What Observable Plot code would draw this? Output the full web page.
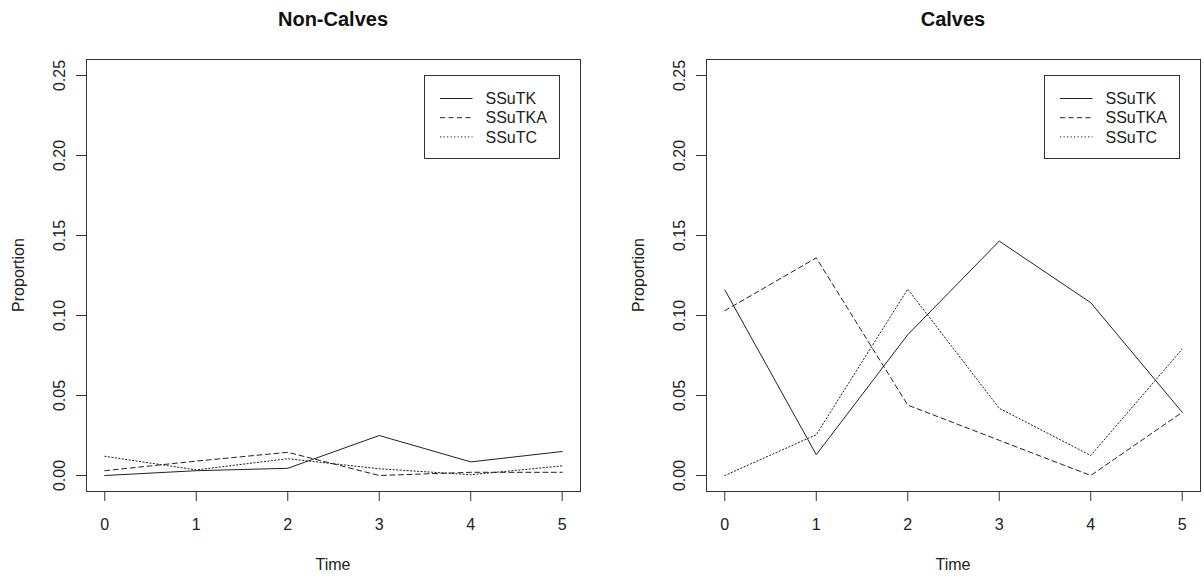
<!DOCTYPE html>
<html>
<head>
<meta charset="utf-8">
<script src="https://cdn.jsdelivr.net/npm/d3@7"></script>
<script src="https://cdn.jsdelivr.net/npm/@observablehq/plot@0.6"></script>
<style>
  html, body { margin: 0; padding: 0; background: #fff; }
  #chart { position: relative; width: 1204px; height: 577px; font-family: "Liberation Sans", Arial, sans-serif; color: #111; }
  .panel { position: absolute; top: 0; }
  .lbl { position: absolute; white-space: nowrap; line-height: 1; transform: translate(-50%, -50%); }
  .title { font-weight: bold; font-size: 20px; }
  .axlab { font-size: 16px; color: #222; }
</style>
</head>
<body>
<div id="chart"></div>
<script>
// ---- Data ----
const time = [0, 1, 2, 3, 4, 5];
const seriesNames = ["SSuTK", "SSuTKA", "SSuTC"];
const panelTitles = ["Non-Calves", "Calves"];
const xTicks = [0, 1, 2, 3, 4, 5];
const yTicks = [0, 0.05, 0.10, 0.15, 0.20, 0.25];

const nonCalvesSSuTK  = [0.000, 0.003, 0.0045, 0.025, 0.0085, 0.015];
const nonCalvesSSuTKA = [0.003, 0.009, 0.0145, 0.000, 0.002, 0.002];
const nonCalvesSSuTC  = [0.012, 0.0035, 0.0105, 0.0042, 0.0005, 0.006];

const calvesSSuTK  = [0.116, 0.013, 0.088, 0.1465, 0.108, 0.0395];
const calvesSSuTKA = [0.103, 0.136, 0.044, 0.022, 0.000, 0.0395];
const calvesSSuTC  = [0.000, 0.0255, 0.1165, 0.042, 0.0125, 0.079];

const dashes = {SSuTK: null, SSuTKA: "5,3.5", SSuTC: "1.3,2.2"};

function toRows(arrs) {
  const rows = [];
  seriesNames.forEach((s, i) => time.forEach((t, j) => rows.push({series: s, time: t, value: arrs[i][j]})));
  return rows;
}
const panels = [
  {title: panelTitles[0], rows: toRows([nonCalvesSSuTK, nonCalvesSSuTKA, nonCalvesSSuTC])},
  {title: panelTitles[1], rows: toRows([calvesSSuTK, calvesSSuTKA, calvesSSuTC])}
];

const chart = document.getElementById("chart");
const panelLeft = [0, 620];
const panelWidth = [620, 584];
const mL = 86, mT = 59, mB = 86;

panels.forEach((p, k) => {
  const W = panelWidth[k];
  const plot = Plot.plot({
    width: W,
    height: 577,
    marginLeft: mL,
    marginRight: W - 580,
    marginTop: mT,
    marginBottom: mB,
    x: {domain: [-0.2, 5.2]},
    y: {domain: [-0.01, 0.26]},
    style: {fontFamily: '"Liberation Sans", Arial, sans-serif', fontSize: "16px", color: "#222", background: "transparent", overflow: "visible"},
    marks: [
      Plot.frame({stroke: "#333", strokeWidth: 1}),
      Plot.axisX({ticks: xTicks, tickSize: 10, tickPadding: 17, tickFormat: d3.format("d"), label: null, stroke: "#333"}),
      Plot.axisY({ticks: yTicks, tickSize: 10, tickPadding: 12, tickRotate: -90, tickFormat: d3.format(".2f"), label: null, stroke: "#333"}),
      ...seriesNames.map(s => Plot.line(p.rows.filter(d => d.series === s), {
        x: "time", y: "value", stroke: "#222", strokeWidth: 1,
        strokeDasharray: dashes[s] || undefined
      }))
    ]
  });
  const holder = document.createElement("div");
  holder.className = "panel";
  holder.style.left = panelLeft[k] + "px";
  holder.appendChild(plot);
  chart.appendChild(holder);

  const cx = panelLeft[k] + (mL + 580) / 2;
  // Title
  const t = document.createElement("div");
  t.className = "lbl title";
  t.textContent = p.title;
  t.style.left = cx + "px";
  t.style.top = "18.5px";
  chart.appendChild(t);
  // x label
  const xl = document.createElement("div");
  xl.className = "lbl axlab";
  xl.textContent = "Time";
  xl.style.left = cx + "px";
  xl.style.top = "565px";
  chart.appendChild(xl);
  // y label
  const yl = document.createElement("div");
  yl.className = "lbl axlab";
  yl.textContent = "Proportion";
  yl.style.left = (panelLeft[k] + 19) + "px";
  yl.style.top = ((mT + 577 - mB) / 2) + "px";
  yl.style.transform = "translate(-50%, -50%) rotate(-90deg)";
  chart.appendChild(yl);

  // Legend
  const lx = panelLeft[k] + 423.5, ly = 75, lw = 135, lh = 83;
  const svg = d3.select(chart).append("svg")
    .style("position", "absolute").style("left", lx + "px").style("top", ly + "px")
    .attr("width", lw + 1).attr("height", lh + 1);
  svg.append("rect").attr("x", 0.5).attr("y", 0.5).attr("width", lw).attr("height", lh)
    .attr("fill", "white").attr("stroke", "#333");
  seriesNames.forEach((s, i) => {
    const yy = 23.5 + i * 19.2;
    svg.append("line").attr("x1", 16).attr("x2", 48.5).attr("y1", yy).attr("y2", yy)
      .attr("stroke", "#222").attr("stroke-dasharray", dashes[s]);
    svg.append("text").attr("x", 61.5).attr("y", yy + 5.7).text(s)
      .attr("font-family", '"Liberation Sans", Arial, sans-serif').attr("font-size", 16).attr("fill", "#222");
  });
});
</script>
</body>
</html>
